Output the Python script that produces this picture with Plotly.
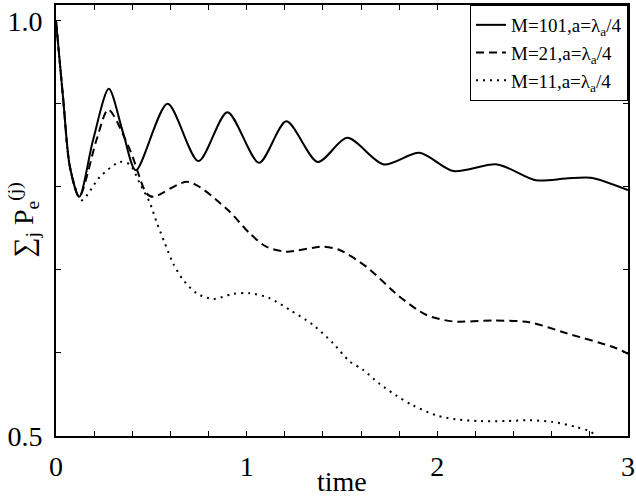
import plotly.graph_objects as go

# M=101 (solid)
t_101 = [0.0, 0.038, 0.073, 0.122, 0.195, 0.277, 0.352, 0.419, 0.585, 0.747, 0.899, 1.065,
         1.208, 1.373, 1.527, 1.719, 1.906, 2.084, 2.314, 2.517, 2.674, 2.805, 3.0]
y_101 = [1.0, 0.905, 0.824, 0.788, 0.857, 0.918, 0.865, 0.820, 0.900, 0.831, 0.890, 0.829,
         0.879, 0.830, 0.859, 0.827, 0.841, 0.819, 0.827, 0.808, 0.810, 0.811, 0.796]

# M=21 (dashed)
t_21 = [0.0, 0.038, 0.073, 0.122, 0.213, 0.274, 0.387, 0.475, 0.510, 0.693, 0.893, 1.016,
        1.103, 1.208, 1.400, 1.487, 1.627, 1.801, 1.941, 2.080, 2.290, 2.482, 2.674, 2.935, 3.0]
y_21 = [1.0, 0.905, 0.824, 0.788, 0.857, 0.893, 0.845, 0.792, 0.788, 0.806, 0.774, 0.744,
        0.728, 0.722, 0.728, 0.724, 0.704, 0.668, 0.646, 0.638, 0.639, 0.637, 0.624, 0.606, 0.599]

# M=11 (dotted)
t_11 = [0.0, 0.038, 0.073, 0.134, 0.230, 0.335, 0.387, 0.440, 0.492, 0.527, 0.571, 0.614,
        0.667, 0.737, 0.824, 0.928, 1.016, 1.120, 1.225, 1.347, 1.452, 1.539, 1.609, 1.696,
        1.783, 1.871, 1.993, 2.098, 2.220, 2.360, 2.482, 2.604, 2.726, 2.805, 2.83]
y_11 = [1.0, 0.905, 0.824, 0.784, 0.812, 0.830, 0.827, 0.804, 0.781, 0.758, 0.732, 0.708,
        0.688, 0.672, 0.665, 0.671, 0.672, 0.666, 0.652, 0.634, 0.612, 0.590, 0.580, 0.563,
        0.549, 0.537, 0.525, 0.520, 0.518, 0.518, 0.519, 0.517, 0.511, 0.505, 0.500]

series_names = ["M=101,a=λ<sub>a</sub>/4", "M=21,a=λ<sub>a</sub>/4", "M=11,a=λ<sub>a</sub>/4"]
x_tick_vals = [0, 1, 2, 3]
x_tick_text = ["0", "1", "2", "3"]
y_tick_vals = [0.5, 1.0]
y_tick_text = ["0.5", "1.0"]
x_title = "time"
y_title = "∑<sub>j</sub> P<sub>e</sub><sup>(j)</sup>"

FONT = "Liberation Serif, Times New Roman, serif"

fig = go.Figure()
fig.add_trace(go.Scatter(x=t_101, y=y_101, mode="lines", name=series_names[0],
                         line=dict(color="black", width=2, shape="spline", smoothing=0.8)))
fig.add_trace(go.Scatter(x=t_21, y=y_21, mode="lines", name=series_names[1],
                         line=dict(color="black", width=2, dash="8px,5px", shape="spline", smoothing=0.8)))
fig.add_trace(go.Scatter(x=t_11, y=y_11, mode="lines", name=series_names[2],
                         line=dict(color="black", width=2, dash="2px,5px", shape="spline", smoothing=0.8)))

fig.update_layout(
    width=636, height=500,
    margin=dict(l=56, r=8, t=5, b=64, autoexpand=False),
    paper_bgcolor="white", plot_bgcolor="white",
    font=dict(family=FONT, color="black", size=28),
    showlegend=True,
    legend=dict(x=1, y=1, xanchor="right", yanchor="top",
                bgcolor="white", bordercolor="black", borderwidth=1,
                entrywidth=140, entrywidthmode="pixels",
                font=dict(family=FONT, size=19, color="black")),
    annotations=[
        dict(text=x_title, xref="paper", yref="paper", x=0.5, y=0, xanchor="center",
             yanchor="bottom", yshift=-63, showarrow=False, font=dict(size=28)),
        dict(text=y_title, xref="paper", yref="paper", x=0, y=0.5, xanchor="center",
             yanchor="middle", xshift=-32, textangle=-90, showarrow=False, font=dict(size=28)),
    ],
)
fig.update_xaxes(
    range=[0, 3], showgrid=False, zeroline=False, automargin=False,
    showline=True, linecolor="black", linewidth=2, mirror="ticks",
    ticks="inside", ticklen=5, tickwidth=1, tickcolor="black",
    tickvals=x_tick_vals, ticktext=x_tick_text, ticklabelstandoff=4,
    minor=dict(dtick=0.2, tick0=0, ticks="inside", ticklen=5, tickcolor="black", showgrid=False),
)
fig.update_yaxes(
    range=[0.5, 1.019], showgrid=False, zeroline=False, automargin=False,
    showline=True, linecolor="black", linewidth=2, mirror="ticks",
    ticks="inside", ticklen=5, tickwidth=1, tickcolor="black",
    tickvals=y_tick_vals, ticktext=y_tick_text, ticklabelstandoff=6,
    minor=dict(dtick=0.1, tick0=0.5, ticks="inside", ticklen=5, tickcolor="black", showgrid=False),
)

fig.write_html("out.html", config={"displayModeBar": False},
               post_script="document.body.style.margin='0';document.body.style.padding='0';")
